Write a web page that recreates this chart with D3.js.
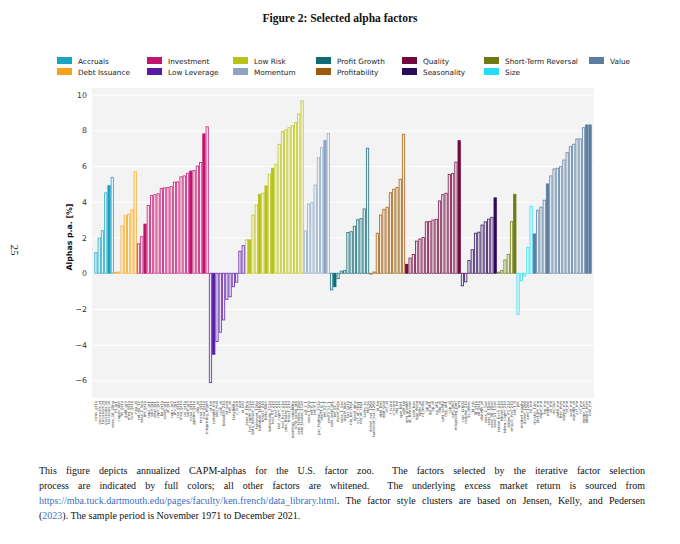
<!DOCTYPE html>
<html><head><meta charset="utf-8">
<script src="https://cdn.jsdelivr.net/npm/d3@7"></script>
<style>body{margin:0;background:#fff}</style>
</head><body>
<svg id="c" width="680" height="544"></svg>
<script>
// ---------- DATA ----------
const clusters = ["Accruals","Debt Issuance","Investment","Low Leverage","Low Risk","Momentum","Profit Growth","Profitability","Quality","Seasonality","Short-Term Reversal","Size","Value"];
const clusterColors = ["#1aa3c3","#f7a21b","#c2146e","#5a1aa8","#b8c116","#8ca6c2","#0f6a75","#9d5b0a","#720a3f","#2e0a5c","#6f7b12","#26dcf2","#5a7c9e"];

const accrualsAlpha      = [1.15,1.97,2.38,4.5,4.9,5.37];
const debtIssuanceAlpha  = [0.05,0.07,2.65,3.22,3.3,3.54,5.68];
const investmentAlpha    = [1.65,2.05,2.75,3.8,4.35,4.4,4.45,4.75,4.78,4.8,4.85,5.1,5.12,5.4,5.45,5.6,5.72,5.75,6.0,6.2,7.8,8.2];
const lowLeverageAlpha   = [-6.12,-4.53,-3.82,-3.3,-2.61,-1.46,-1.31,-0.75,-0.5,1.23,1.55];
const lowRiskAlpha       = [1.87,1.87,3.26,3.82,4.42,4.48,4.89,5.54,5.88,6.1,7.22,7.93,8.02,8.15,8.26,8.43,8.92,9.65];
const momentumAlpha      = [2.37,3.88,3.95,4.94,6.47,7.03,7.43,7.82];
const profitGrowthAlpha  = [-0.93,-0.75,-0.3,0.12,0.15,2.28,2.33,2.63,3.0,3.06,3.6,7.0];
const profitabilityAlpha = [-0.05,0.07,2.24,3.26,3.58,3.69,4.51,4.7,4.8,5.26,7.78];
const qualityAlpha       = [0.5,0.85,1.05,1.8,1.92,2.0,2.88,2.9,2.98,3.02,4.05,4.4,4.48,5.53,5.58,6.22,7.42];
const seasonalityAlpha   = [-0.7,-0.48,0.72,1.32,2.24,2.3,2.7,2.88,3.03,3.13,4.22];
const strAlpha           = [0.06,0.15,0.75,1.06,2.89,4.42];
const sizeAlpha          = [-2.3,-0.42,-0.15,1.45,3.75];
const valueAlpha         = [2.2,3.53,3.7,4.09,5.0,5.45,5.84,5.88,5.97,6.34,6.75,7.09,7.22,7.52,7.52,8.15,8.3,8.3];
const seriesValues = [accrualsAlpha,debtIssuanceAlpha,investmentAlpha,lowLeverageAlpha,lowRiskAlpha,momentumAlpha,profitGrowthAlpha,profitabilityAlpha,qualityAlpha,seasonalityAlpha,strAlpha,sizeAlpha,valueAlpha];

// indices (within each cluster) of factors selected by the iterative procedure (full colour)
const selectedIdx = [[4],[],[2,16,20],[1],[1,4,6,8],[6],[1],[],[0,16],[10],[5],[],[0,4,16,17]];

const accrualsNames = ["cowc_gr1a","oaccruals_ni","taccruals_ni","oaccruals_at","taccruals_at","seas_16_20na"];
const debtIssuanceNames = ["ni_ar1","capex_abn","fnl_gr1a","debt_gr3","nfna_gr1a","ncol_gr1a","noa_at"];
const investmentNames = ["ret_60_12","seas_2_5na","inv_gr1a","capx_gr1","sale_gr1","emp_gr1","capx_gr2","be_gr1a","saleq_gr1","at_gr1","capx_gr3","inv_gr1","coa_gr1a","lnoa_gr1a","col_gr1a","sale_gr3","ncoa_gr1a","ppeinv_gr1a","aliq_at","nncoa_gr1a","noa_gr1a","mispricing_mgmt"];
const lowLeverageNames = ["at_be","netdebt_me","aliq_mat","cash_at","bidaskhl_21d","rd_sale","rd5_at","tangibility","z_score","age","ni_ivol"];
const lowRiskNames = ["seas_6_10na","ivol_capm_252d","beta_dimson_21d","turnover_126d","betabab_1260d","rmax5_21d","beta_60m","betadown_252d","ivol_ff3_21d","rvol_21d","ivol_capm_21d","ivol_hxz4_21d","zero_trades_21d","rmax1_21d","earnings_variability","ocfq_saleq_std","zero_trades_126d","zero_trades_252d"];
const momentumNames = ["ret_3_1","seas_1_1na","ret_6_1","ret_9_1","prc_highprc_252d","resff3_6_1","ret_12_1","resff3_12_1"];
const profitGrowthNames = ["sale_emp_gr1","ret_12_7","dsale_dsga","seas_1_1an","dsale_drec","tax_gr1a","niq_be_chg1","dsale_dinv","ocf_at_chg1","niq_at_chg1","saleq_su","niq_su"];
const profitabilityNames = ["dolvol_var_126d","turnover_var_126d","ni_be","ebit_bev","ebit_sale","ocf_at","f_score","o_score","niq_be","ope_bel1","ope_be"];
const qualityNames = ["qmj_growth","at_turnover","sale_bev","dgp_dsale","opex_at","ni_inc8q","gp_at","gp_atl1","op_at","op_atl1","niq_at","qmj_safety","cop_atl1","cop_at","qmj_prof","mispricing_perf","qmj"];
const seasonalityNames = ["corr_1260d","coskew_21d","kz_index","pi_nix","lti_gr1a","sti_gr1a","dbnetis_at","seas_2_5an","seas_6_10an","seas_16_20an","seas_11_15an"];
const strNames = ["iskew_hxz4_21d","rskew_21d","iskew_capm_21d","iskew_ff3_21d","rmax5_rvol_21d","ret_1_0"];
const sizeNames = ["prc","market_equity","dolvol_126d","ami_126d","rd_me"];
const valueNames = ["chcsho_12m","div12m_me","eqpo_me","be_me","netis_at","at_me","eq_dur","debt_me","bev_mev","eqnpo_me","ni_me","sale_me","eqnetis_at","ocf_me","fcf_me","eqnpo_12m","ebitda_mev","ival_me"];
const factorNames = [accrualsNames,debtIssuanceNames,investmentNames,lowLeverageNames,lowRiskNames,momentumNames,profitGrowthNames,profitabilityNames,qualityNames,seasonalityNames,strNames,sizeNames,valueNames];

const yTicks = [-6,-4,-2,0,2,4,6,8,10];
const yDomain = [-6.98, 10.37];

const titleText = "Figure 2: Selected alpha factors";
const yLabel = "Alphas p.a. [%]";
const pageNumber = "25";

// ---------- DRAW ----------
const svg = d3.select("#c");
const plot = {left: 92, right: 594, top: 88, bottom: 398};

svg.append("text").attr("x", 340).attr("y", 22).attr("text-anchor", "middle")
  .attr("font-family", "'Liberation Serif', serif").attr("font-weight", "bold")
  .attr("font-size", 11.5).attr("fill", "#111").text(titleText);

svg.append("text").attr("transform", "translate(11,250) rotate(90)")
  .attr("text-anchor", "middle").attr("font-family", "'Liberation Serif', serif")
  .attr("font-size", 11).attr("fill", "#222").text(pageNumber);

// legend (column-major, 2 rows)
const legendCols = [57, 147, 233, 316, 402, 484, 589];
const legend = svg.append("g");
clusters.forEach((c, i) => {
  const col = Math.floor(i / 2), row = i % 2;
  const gx = legendCols[col], gy = 57 + row * 11;
  legend.append("rect").attr("x", gx).attr("y", gy).attr("width", 15).attr("height", 7).attr("fill", clusterColors[i]);
  legend.append("text").attr("x", gx + 21).attr("y", gy + 6.5)
    .attr("font-family", "'DejaVu Sans', sans-serif").attr("font-size", 7.3).attr("fill", "#222").text(c);
});

// bars data
const bars = [];
seriesValues.forEach((vals, ci) => vals.forEach((v, j) => bars.push({
  cluster: ci, value: v, name: factorNames[ci][j], selected: selectedIdx[ci].includes(j)
})));

const x = d3.scaleBand().domain(d3.range(bars.length)).range([94.3, 591.7]).padding(0);
const y = d3.scaleLinear().domain(yDomain).range([plot.bottom, plot.top]);

svg.append("rect").attr("x", plot.left).attr("y", plot.top)
  .attr("width", plot.right - plot.left).attr("height", plot.bottom - plot.top).attr("fill", "#f3f3f3");

const yAxis = svg.append("g").attr("transform", `translate(${plot.left},0)`)
  .call(d3.axisLeft(y).tickValues(yTicks).tickSize(-(plot.right - plot.left)).tickPadding(5)
    .tickFormat(d => d < 0 ? "\u2212" + Math.abs(d) : String(d)));
yAxis.select(".domain").remove();
yAxis.selectAll(".tick line").attr("stroke", "#ffffff").attr("stroke-width", 1);
yAxis.selectAll(".tick text").attr("font-family", "'DejaVu Sans', sans-serif").attr("font-size", 7.8).attr("fill", "#333");

svg.append("text").attr("transform", `translate(72,${(plot.top + plot.bottom) / 2 - 6}) rotate(-90)`)
  .attr("text-anchor", "middle").attr("font-family", "'DejaVu Sans', sans-serif")
  .attr("font-weight", "bold").attr("font-size", 7.8).attr("fill", "#111").text(yLabel);

const bw = x.bandwidth();
svg.append("g").selectAll("rect").data(bars).join("rect")
  .attr("x", (d, i) => x(i) + 0.5)
  .attr("width", bw - 1)
  .attr("y", d => Math.min(y(d.value), y(0)))
  .attr("height", d => Math.max(0.6, Math.abs(y(d.value) - y(0))))
  .attr("fill", d => d.selected ? clusterColors[d.cluster] : d3.interpolateRgb(clusterColors[d.cluster], "#ffffff")(0.88))
  .attr("stroke", d => d.selected ? clusterColors[d.cluster] : d3.interpolateRgb(clusterColors[d.cluster], "#ffffff")(0.15))
  .attr("stroke-width", 0.9);

// x tick labels (tiny rotated factor names)
svg.append("g").selectAll("text").data(bars).join("text")
  .attr("transform", (d, i) => `translate(${x(i) + bw / 2 + 1.3},${plot.bottom + 3}) rotate(-90)`)
  .attr("text-anchor", "end")
  .attr("font-family", "'DejaVu Sans', sans-serif").attr("font-size", 3.8).attr("fill", "#444")
  .text(d => d.name);

// caption
const capX0 = 39, capX1 = 645, capFont = 10;
const link = "https://mba.tuck.dartmouth.edu/pages/faculty/ken.french/data_library.html";
const linkColor = "#3b6fc4";
const capLines = [
  {y: 474, justify: true, parts: [["This figure depicts annualized CAPM-alphas for the U.S. factor zoo.  The factors selected by the iterative factor selection", null]]},
  {y: 489, justify: true, parts: [["process are indicated by full colors; all other factors are whitened.  The underlying excess market return is sourced from", null]]},
  {y: 504, justify: true, parts: [[link, linkColor], [". The factor style clusters are based on Jensen, Kelly, and Pedersen", null]]},
  {y: 519, justify: false, parts: [["(", null], ["2023", linkColor], ["). The sample period is November 1971 to December 2021.", null]]}
];
capLines.forEach(l => {
  const t = svg.append("text").attr("x", capX0).attr("y", l.y)
    .attr("font-family", "'Liberation Serif', serif").attr("font-size", capFont).attr("fill", "#111")
    .attr("xml:space", "preserve");
  l.parts.forEach(p => t.append("tspan").attr("fill", p[1] || "#111").text(p[0]));
  if (l.justify) {
    const full = l.parts.map(p => p[0]).join("");
    const spaces = (full.match(/ /g) || []).length;
    const w = t.node().getComputedTextLength();
    if (spaces > 0) t.attr("word-spacing", (capX1 - capX0 - w) / spaces);
  }
});
</script>
</body></html>
